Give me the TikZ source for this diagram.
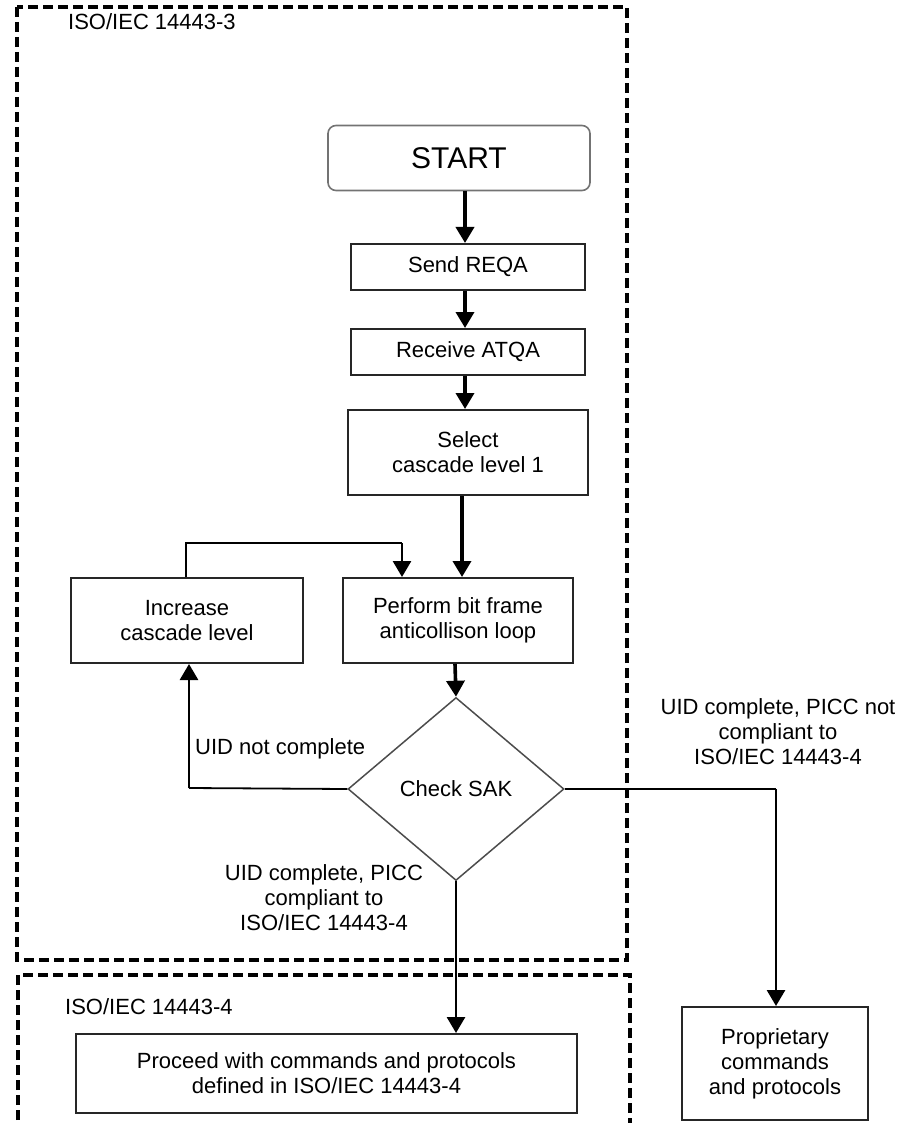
\documentclass[tikz,border=0pt]{standalone}
\usepackage{fontspec}
\setmainfont{Liberation Sans}
\usetikzlibrary{arrows.meta,shapes.geometric}
\tikzset{
  txt/.style={font=\fontsize{22}{25}\selectfont, align=center, inner sep=0pt},
  boxn/.style={draw=black!85, line width=2pt, rectangle, txt},
  arr/.style={line width=3.6pt, -{Triangle[width=18pt,length=16pt]}},
  thinarr/.style={line width=2.8pt, -{Triangle[width=18pt,length=16pt]}},
  conn/.style={line width=1.8pt},
  zone/.style={line width=3.2pt, dash pattern=on 10pt off 5pt},
}
\begin{document}
\begin{tikzpicture}[x=1pt,y=-1pt]
\useasboundingbox (0,0) rectangle (918,1123);
% zones
\draw[zone] (17,7) rectangle (627,960);
\draw[zone] (18,1135) -- (18,975) -- (630,975) -- (630,1135);
\node[txt, anchor=west] (z3) at (68,22) {ISO/IEC 14443-3};
\node[txt, anchor=west] (z4) at (65,1007) {ISO/IEC 14443-4};
% nodes
\node[draw=black!55, line width=1.6pt, rounded corners=8pt, minimum width=262pt, minimum height=65pt, inner sep=0pt, font=\fontsize{30}{34}\selectfont] (start) at (459,158) {START};
\node[boxn, minimum width=234pt, minimum height=46pt] (send) at (468,267) {Send REQA};
\node[boxn, minimum width=234pt, minimum height=46pt] (recv) at (468,352) {Receive ATQA};
\node[boxn, minimum width=240pt, minimum height=85pt] (sel) at (468,452.5) {Select\\cascade level 1};
\node[boxn, minimum width=230pt, minimum height=85pt] (perf) at (458,620.5) {Perform bit frame\\anticollison loop};
\node[boxn, minimum width=232pt, minimum height=85pt] (inc) at (187,620.5) {Increase\\cascade level};
\node[draw=black!70, line width=1.5pt, diamond, aspect=1.18, minimum width=216pt, minimum height=183pt, inner sep=0pt, txt] (dia) at (456,789) {Check SAK};
\node[boxn, minimum width=501pt, minimum height=79pt] (proc) at (326.5,1073.5) {Proceed with commands and protocols\\defined in ISO/IEC 14443-4};
\node[boxn, minimum width=186pt, minimum height=113pt] (prop) at (775,1063.5) {Proprietary\\commands\\and protocols};
% helper coordinates
\coordinate (ax1) at (465,0);
\coordinate (ax2) at (462,0);
\coordinate (ax3) at (455,0);
\coordinate (loopA) at (186,543);
\coordinate (loopB) at (402,543);
\coordinate (leftC) at (189,788);
\coordinate (rightC) at (776,789);
% main arrows
\draw[arr] (start.south -| ax1) -- (send.north -| ax1);
\draw[arr] (send.south -| ax1) -- (recv.north -| ax1);
\draw[arr] (recv.south -| ax1) -- (sel.north -| ax1);
\draw[arr] (sel.south -| ax2) -- (perf.north -| ax2);
\draw[arr] (perf.south -| ax3) -- (dia.north);
% loop
\draw[conn] (inc.north -| loopA) -- (loopA) -- (loopB);
\draw[thinarr] (loopB) -- (perf.north -| loopB);
% left branch
\draw[conn] (dia.west) -- (leftC);
\draw[thinarr] (leftC) -- (inc.south -| leftC);
% right branch
\draw[conn] (dia.east) -- (rightC);
\draw[thinarr] (rightC) -- (prop.north -| rightC);
% bottom branch
\draw[thinarr] (dia.south) -- (proc.north -| dia.south);
% labels
\node[txt, anchor=west] (lnot) at (195,749) {UID not complete};
\node[txt] (lright) at (778,731.5) {UID complete, PICC not\\compliant to\\ISO/IEC 14443-4};
\node[txt] (lbottom) at (324,897.5) {UID complete, PICC\\compliant to\\ISO/IEC 14443-4};
\end{tikzpicture}
\end{document}
